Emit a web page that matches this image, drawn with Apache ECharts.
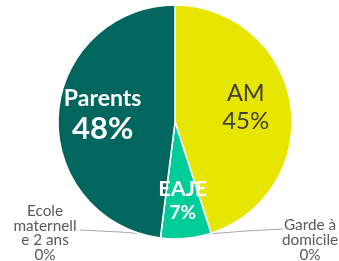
<!DOCTYPE html>
<html>
<head>
<meta charset="utf-8">
<script src="https://cdn.jsdelivr.net/npm/echarts@6/dist/echarts.min.js"></script>
<style>html,body{margin:0;padding:0;background:#fff}#c{width:339px;height:261px}</style>
</head>
<body>
<div id="c"></div>
<script>
const categories = ["AM", "Garde à\ndomicile", "EAJE", "Ecole\nmaternell\ne 2 ans", "Parents"];
const values = [45, 0, 7, 0, 48];
const colors = ["#E6E600", "#7F7F7F", "#00CC99", "#A5A5A5", "#00665E"];

const FONT = "Lato";
const insideStyles = [
  { n: { fontSize: 23.5, color: "#404040", fontWeight: "normal" }, v: { fontSize: 24, color: "#404040", fontWeight: "normal" } },
  null,
  { n: { fontSize: 21.5, color: "#ffffff", fontWeight: "bold" }, v: { fontSize: 19, color: "#ffffff", fontWeight: "bold" } },
  null,
  { n: { fontSize: 23, color: "#ffffff", fontWeight: "bold" }, v: { fontSize: 31, color: "#ffffff", fontWeight: "bold" } }
];

const data = categories.map((name, i) => {
  const item = { name: name, value: values[i], itemStyle: { color: colors[i] } };
  const st = insideStyles[i];
  if (st) {
    item.label = {
      position: "inside",
      formatter: "{n|{b}}\n{v|{c}%}",
      rich: {
        n: Object.assign({ fontFamily: FONT, lineHeight: st.n.fontSize + 4, align: "center" }, st.n),
        v: Object.assign({ fontFamily: FONT, lineHeight: st.v.fontSize + 3, align: "center" }, st.v)
      }
    };
    item.labelLine = { show: false };
  } else {
    item.label = {
      position: "outside",
      formatter: "{b}\n{c}%",
      fontFamily: FONT,
      fontSize: 15.3,
      lineHeight: 14.8,
      color: "#595959",
      align: "center"
    };
    item.labelLine = { show: true, length: 10, length2: 30, lineStyle: { color: "#A6A6A6", width: 1 } };
  }
  return item;
});

const layouts = [
  { dx: 10, dy: -5 },
  { x: 310, y: 240, line: [[208, 234], [246, 231], [283, 229]] },
  { dx: 2, dy: 17 },
  { x: 45, y: 233, line: [[160, 235], [120, 232], [80, 230]] },
  { dx: -11, dy: -3 }
];

const chart = echarts.init(document.getElementById("c"), null, { renderer: "canvas" });
chart.setOption({
  animation: false,
  series: [{
    type: "pie",
    center: [175, 122],
    radius: 117,
    startAngle: 90,
    clockwise: true,
    avoidLabelOverlap: false,
    minShowLabelAngle: 0,
    itemStyle: { borderColor: "#ffffff", borderWidth: 1.5 },
    data: data,
    labelLayout: function (params) {
      const l = layouts[params.dataIndex];
      if (l.x !== undefined) {
        return { x: l.x, y: l.y, align: "center", verticalAlign: "middle", labelLinePoints: l.line };
      }
      return { dx: l.dx, dy: l.dy };
    }
  }]
});
</script>
</body>
</html>
